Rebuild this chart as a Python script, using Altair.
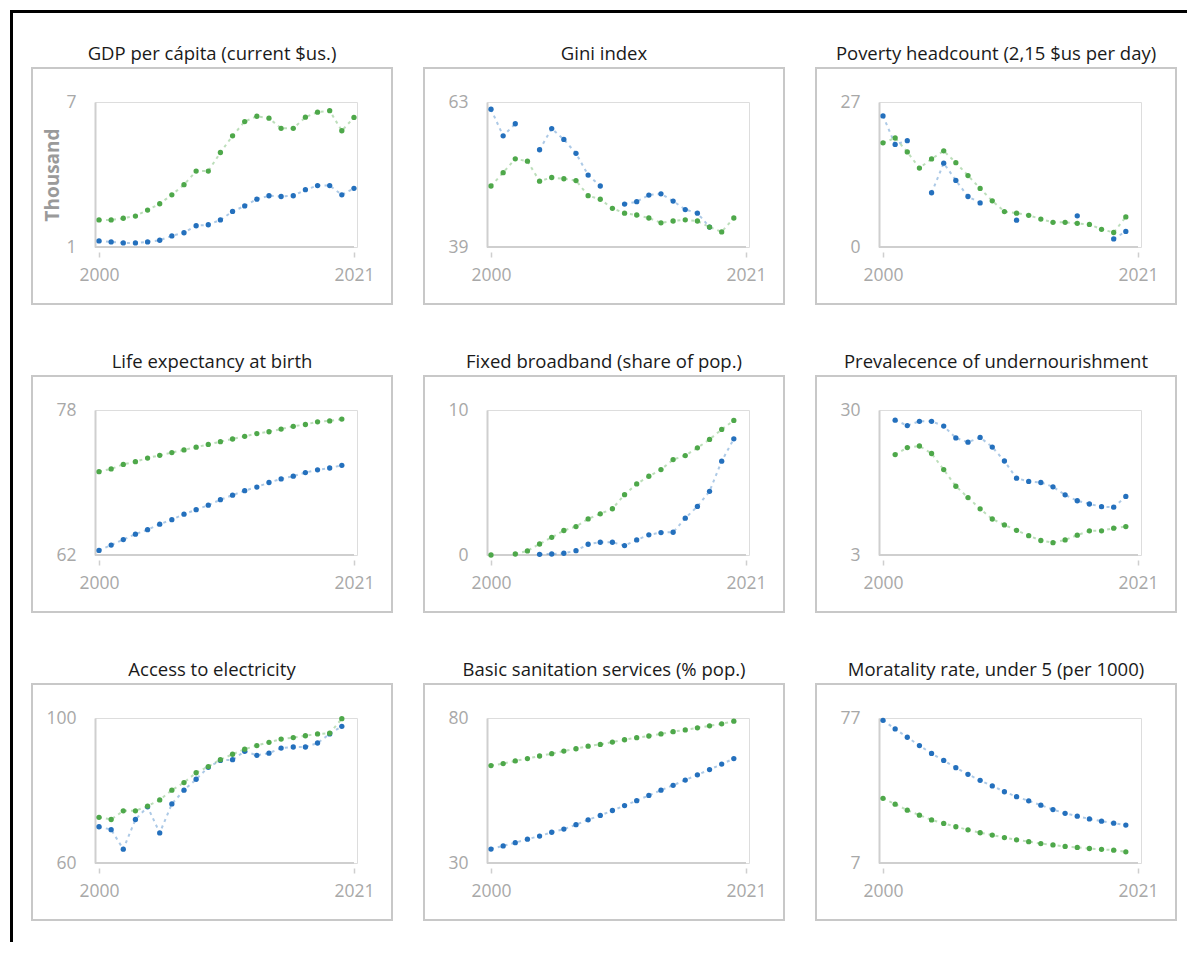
import altair as alt
import pandas as pd

years = list(range(2000, 2022))

titles = [
    "GDP per cápita (current $us.)",
    "Gini index",
    "Poverty headcount (2,15 $us per day)",
    "Life expectancy at birth",
    "Fixed broadband (share of pop.)",
    "Prevalecence of undernourishment",
    "Access to electricity",
    "Basic sanitation services (% pop.)",
    "Moratality rate, under 5 (per 1000)",
]
y_lo = [1, 39, 0, 62, 0, 3, 60, 30, 7]
y_hi = [7, 63, 27, 78, 10, 30, 100, 80, 77]

N = None
gdp_blue = [1.25, 1.21, 1.17, 1.17, 1.21, 1.28, 1.46, 1.59, 1.88, 1.92, 2.12, 2.47, 2.70, 2.98, 3.12, 3.09, 3.12, 3.37, 3.54, 3.54, 3.16, 3.43]
gdp_green = [2.12, 2.12, 2.19, 2.28, 2.53, 2.79, 3.16, 3.58, 4.14, 4.14, 4.91, 5.60, 6.19, 6.41, 6.33, 5.91, 5.91, 6.37, 6.58, 6.64, 5.81, 6.36]

gini_blue = [61.8, 57.4, 59.4, N, 55.1, 58.6, 56.8, 54.5, 50.9, 49.1, N, 46.1, 46.5, 47.6, 47.8, 46.6, 45.2, 44.6, 42.3, N, N, N]
gini_green = [49.1, 51.3, 53.6, 53.2, 49.9, 50.5, 50.3, 50.0, 47.5, 46.9, 45.4, 44.6, 44.3, 43.8, 43.0, 43.3, 43.5, 43.3, 42.3, 41.5, 43.8, N]

pov_blue = [24.4, 19.1, 19.8, N, 10.1, 15.6, 12.4, 9.4, 8.2, N, N, 5.0, N, N, N, N, 5.8, N, N, 1.5, 2.9, N]
pov_green = [19.4, 20.3, 17.7, 14.7, 16.4, 17.9, 15.7, 13.3, 10.9, 8.6, 6.6, 6.3, 5.9, 5.2, 4.6, 4.6, 4.4, 4.2, 3.3, 2.7, 5.6, N]

life_blue = [62.5, 63.1, 63.7, 64.3, 64.8, 65.4, 65.9, 66.5, 67.0, 67.5, 68.1, 68.6, 69.1, 69.5, 70.0, 70.4, 70.7, 71.1, 71.4, 71.6, 71.9, N]
life_green = [71.2, 71.5, 72.0, 72.3, 72.7, 73.0, 73.3, 73.6, 73.9, 74.2, 74.5, 74.8, 75.1, 75.4, 75.6, 75.9, 76.2, 76.4, 76.7, 76.8, 77.0, N]

bb_blue = [N, N, N, N, 0.05, 0.07, 0.12, 0.3, 0.74, 0.88, 0.88, 0.65, 1.04, 1.39, 1.55, 1.57, 2.54, 3.35, 4.39, 6.47, 8.01, N]
bb_green = [0.0, N, 0.07, 0.28, 0.76, 1.22, 1.69, 1.96, 2.49, 2.84, 3.19, 4.16, 4.90, 5.43, 5.89, 6.58, 6.86, 7.39, 7.97, 8.66, 9.28, N]

und_blue = [N, 28.1, 27.1, 27.9, 27.9, 27.0, 24.8, 24.0, 24.9, 23.1, 20.5, 17.3, 16.7, 16.5, 15.7, 14.2, 13.1, 12.5, 12.0, 11.9, 13.9, N]
und_green = [N, 21.7, 23.0, 23.3, 21.9, 18.9, 15.8, 13.7, 11.6, 9.7, 8.6, 7.6, 6.6, 5.7, 5.3, 5.8, 6.7, 7.5, 7.5, 8.0, 8.3, N]

elec_blue = [70.0, 69.2, 63.8, 72.0, 75.5, 68.3, 76.3, 80.1, 83.1, 86.4, 88.3, 88.5, 90.8, 89.7, 90.3, 91.7, 92.0, 92.0, 93.1, 95.6, 97.7, N]
elec_green = [72.6, 72.0, 74.4, 74.4, 75.7, 77.4, 80.1, 82.2, 84.9, 86.6, 88.5, 90.0, 91.4, 92.4, 93.3, 94.2, 94.6, 95.1, 95.6, 95.8, 99.8, N]

san_blue = [34.8, 35.9, 37.0, 38.2, 39.3, 40.6, 41.7, 43.2, 44.9, 46.4, 48.1, 49.8, 51.5, 53.3, 55.1, 56.8, 58.6, 60.4, 62.2, 64.1, 66.0, N]
san_green = [63.6, 64.3, 65.2, 66.0, 66.9, 67.7, 68.6, 69.4, 70.3, 70.9, 71.7, 72.5, 73.2, 73.8, 74.5, 75.3, 75.9, 76.6, 77.3, 78.0, 78.9, N]

mort_blue = [75.9, 71.7, 67.7, 63.7, 59.9, 56.5, 53.0, 49.8, 46.9, 44.2, 41.4, 39.0, 37.0, 34.9, 32.8, 31.0, 29.6, 28.3, 27.2, 26.2, 25.3, N]
mort_green = [38.2, 35.4, 32.5, 30.1, 27.8, 26.1, 24.5, 23.0, 21.6, 20.5, 19.3, 18.2, 17.3, 16.4, 15.7, 15.0, 14.5, 14.0, 13.6, 13.2, 12.4, N]

blues = [gdp_blue, gini_blue, pov_blue, life_blue, bb_blue, und_blue, elec_blue, san_blue, mort_blue]
greens = [gdp_green, gini_green, pov_green, life_green, bb_green, und_green, elec_green, san_green, mort_green]

BLUE = "#2470bd"
GREEN = "#4ea84a"
GRID = "#cfcfcf"
LABEL = "#a8a8a8"
FONT = "Open Sans"
W, H = 262, 145

one = pd.DataFrame({"k": [0]})


def panel(i):
    df = pd.DataFrame({
        "year": years + years,
        "value": blues[i] + greens[i],
        "series": ["blue"] * len(years) + ["green"] * len(years),
    })
    lo, hi = y_lo[i], y_hi[i]
    yaxis_kw = dict(values=[lo, hi], grid=False, domain=True, domainColor=GRID,
                    domainWidth=2, ticks=False, labelColor=LABEL, labelFontSize=17.5,
                    labelPadding=19, labelFlush=False, labelFont=FONT)
    if i == 0:
        yaxis_kw.update(title="Thousand", titleFontWeight="bold", titleColor="#9a9a9a",
                        titleFontSize=19, titlePadding=3, titleFont=FONT)
    else:
        yaxis_kw.update(title=None)
    xenc = alt.X("year:Q",
                 scale=alt.Scale(domain=[1999.67, 2021.25], nice=False, zero=False),
                 axis=alt.Axis(values=[2000, 2021], format="d", grid=False, domain=False,
                               ticks=True, tickSize=5, tickColor=GRID, tickWidth=1.5,
                               labelColor=LABEL, labelFontSize=17.5, labelPadding=9,
                               offset=5, labelFlush=False, title=None, labelFont=FONT))
    yenc = alt.Y("value:Q", scale=alt.Scale(domain=[lo, hi], nice=False, zero=False),
                 axis=alt.Axis(**yaxis_kw))
    color = alt.Color("series:N", scale=alt.Scale(domain=["blue", "green"], range=[BLUE, GREEN]),
                      legend=None)
    base = alt.Chart(df)
    lines = base.mark_line(strokeWidth=2, strokeDash=[3, 4], opacity=0.38,
                           invalid="break-paths-filter-domains").encode(x=xenc, y=yenc, color=color)
    points = base.mark_circle(size=28, opacity=1).encode(x=xenc, y=yenc, color=color)
    box = alt.Chart(one).mark_rect(fill="white", fillOpacity=0, stroke="#c8c8c8", strokeWidth=2).encode(
        x=alt.value(-63), x2=alt.value(W + 35), y=alt.value(-34), y2=alt.value(H + 57))
    baseline = alt.Chart(one).mark_rule(color=GRID, strokeWidth=2).encode(
        x=alt.value(0), x2=alt.value(259), y=alt.value(H))
    title = alt.Chart(one).mark_text(text=titles[i], font=FONT, fontSize=18.5, color="#1a1a1a",
                                     align="center", baseline="middle").encode(
        x=alt.value(117), y=alt.value(-48))
    layers = [box, baseline, lines, points, title]
    if i == 0:
        frame_left = alt.Chart(one).mark_rule(color="black", strokeWidth=3).encode(
            x=alt.value(-83.5), y=alt.value(-92), y2=alt.value(840))
        frame_top = alt.Chart(one).mark_rule(color="black", strokeWidth=3).encode(
            x=alt.value(-85), x2=alt.value(1092), y=alt.value(-90.5))
        layers = [frame_left, frame_top] + layers
    return alt.layer(*layers).properties(width=W, height=H)


panels = [panel(i) for i in range(9)]

chart = alt.concat(*panels, columns=3, spacing={"row": 163, "column": 130}, bounds="flush").properties(
    padding=0, background="white"
).configure_view(strokeOpacity=0).configure(font=FONT)

chart.save("out.html", embed_options={"renderer": "svg", "actions": False})
